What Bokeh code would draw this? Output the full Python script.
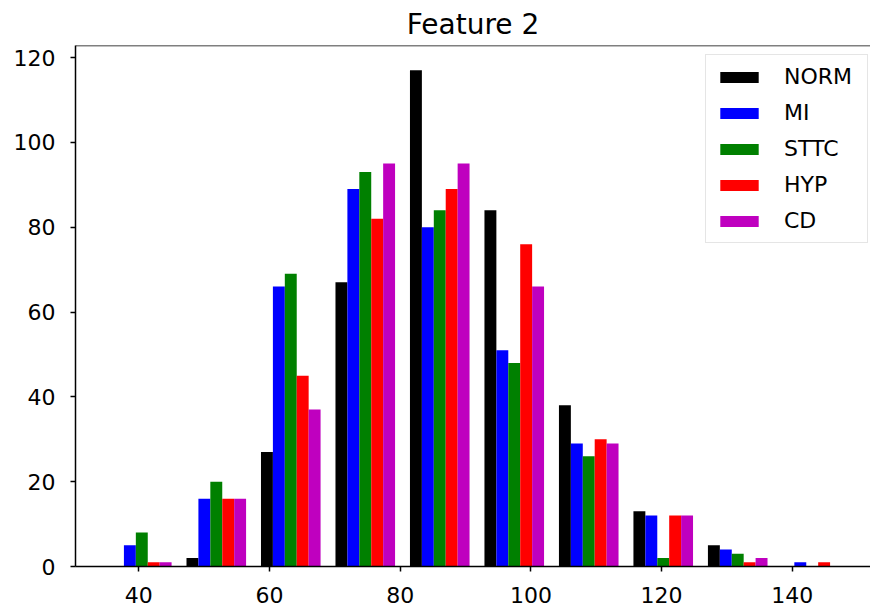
from bokeh.plotting import figure
from bokeh.models import Range1d, FixedTicker, Span, Legend
from bokeh.embed import file_html
from bokeh.resources import INLINE

# ---- data (histogram counts per bin) ----
bin_edges = [34.75, 46.15, 57.55, 68.95, 80.35, 91.75, 103.15, 114.55, 125.95, 137.35, 148.75]
series_names = ["NORM", "MI", "STTC", "HYP", "CD"]
series_colors = ["#000000", "#0000ff", "#008000", "#ff0000", "#bf00bf"]
NORM = [0, 2, 27, 67, 117, 84, 38, 13, 5, 0]
MI = [5, 16, 66, 89, 80, 51, 29, 12, 4, 1]
STTC = [8, 20, 69, 93, 84, 48, 26, 2, 3, 0]
HYP = [1, 16, 45, 82, 89, 76, 30, 12, 1, 1]
CD = [1, 16, 37, 95, 95, 66, 29, 12, 2, 0]
series_values = [NORM, MI, STTC, HYP, CD]
x_ticks = [40, 60, 80, 100, 120, 140]
y_ticks = [0, 20, 40, 60, 80, 100, 120]

FONT = "DejaVu Sans"

# matplotlib-like layout of grouped histogram bars
nx = len(series_values)
lefts = bin_edges[:-1]
bw = bin_edges[1] - bin_edges[0]
dx = 0.8 * bw / nx
data_lo = bin_edges[0] + 0.1 * bw
data_hi = bin_edges[-1] - 0.1 * bw
margin = 0.05 * (data_hi - data_lo)
ymax = max(max(s) for s in series_values) * 1.05

p = figure(width=870, height=613, output_backend="svg", toolbar_location=None,
           title="Feature 2",
           x_range=Range1d(data_lo - margin, 151.97),
           y_range=Range1d(0, ymax),
           min_border_left=75, min_border_right=0, min_border_top=44, min_border_bottom=47)

p.title.text_font = FONT
p.title.text_font_size = "28px"
p.title.text_font_style = "normal"
p.title.align = "center"
p.title.offset = 4
p.title.text_color = "#000000"

legend_items = []
for i, (name, color, vals) in enumerate(zip(series_names, series_colors, series_values)):
    xs = [l + 0.1 * bw + i * dx + dx / 2 for l in lefts]
    r = p.vbar(x=xs, top=vals, bottom=0, width=dx, fill_color=color, line_color=None)
    legend_items.append((name, [r]))

p.outline_line_color = None
p.xgrid.grid_line_color = None
p.ygrid.grid_line_color = None
p.background_fill_color = "white"
p.border_fill_color = "white"

for ax in (p.xaxis[0], p.yaxis[0]):
    ax.axis_line_color = "#000000"
    ax.axis_line_width = 1.5
    ax.major_tick_line_color = "#000000"
    ax.major_tick_line_width = 1.5
    ax.major_tick_out = 5
    ax.major_tick_in = 0
    ax.minor_tick_line_color = None
    ax.minor_tick_out = 0
    ax.major_label_text_font = FONT
    ax.major_label_text_font_size = "22px"
    ax.major_label_text_color = "#000000"

p.xaxis.ticker = FixedTicker(ticks=x_ticks)
p.yaxis.ticker = FixedTicker(ticks=y_ticks)
p.xaxis.major_label_standoff = 15
p.yaxis.major_label_standoff = 15

top_spine = Span(location=ymax, dimension="width", line_color="#000000", line_width=1.5)
p.add_layout(top_spine)

legend = Legend(items=legend_items, location=(630, 323))
legend.label_text_font = FONT
legend.label_text_font_size = "22px"
legend.label_text_color = "#000000"
legend.glyph_width = 48
legend.glyph_height = 14
legend.label_height = 22
legend.label_width = 74
legend.label_standoff = 21
legend.spacing = 11
legend.padding = 9
legend.margin = 0
legend.border_line_color = "#cccccc"
legend.border_line_width = 1
legend.background_fill_color = "white"
legend.background_fill_alpha = 0.8
p.add_layout(legend, "center")

open("out.html", "w").write(file_html(p, INLINE))
